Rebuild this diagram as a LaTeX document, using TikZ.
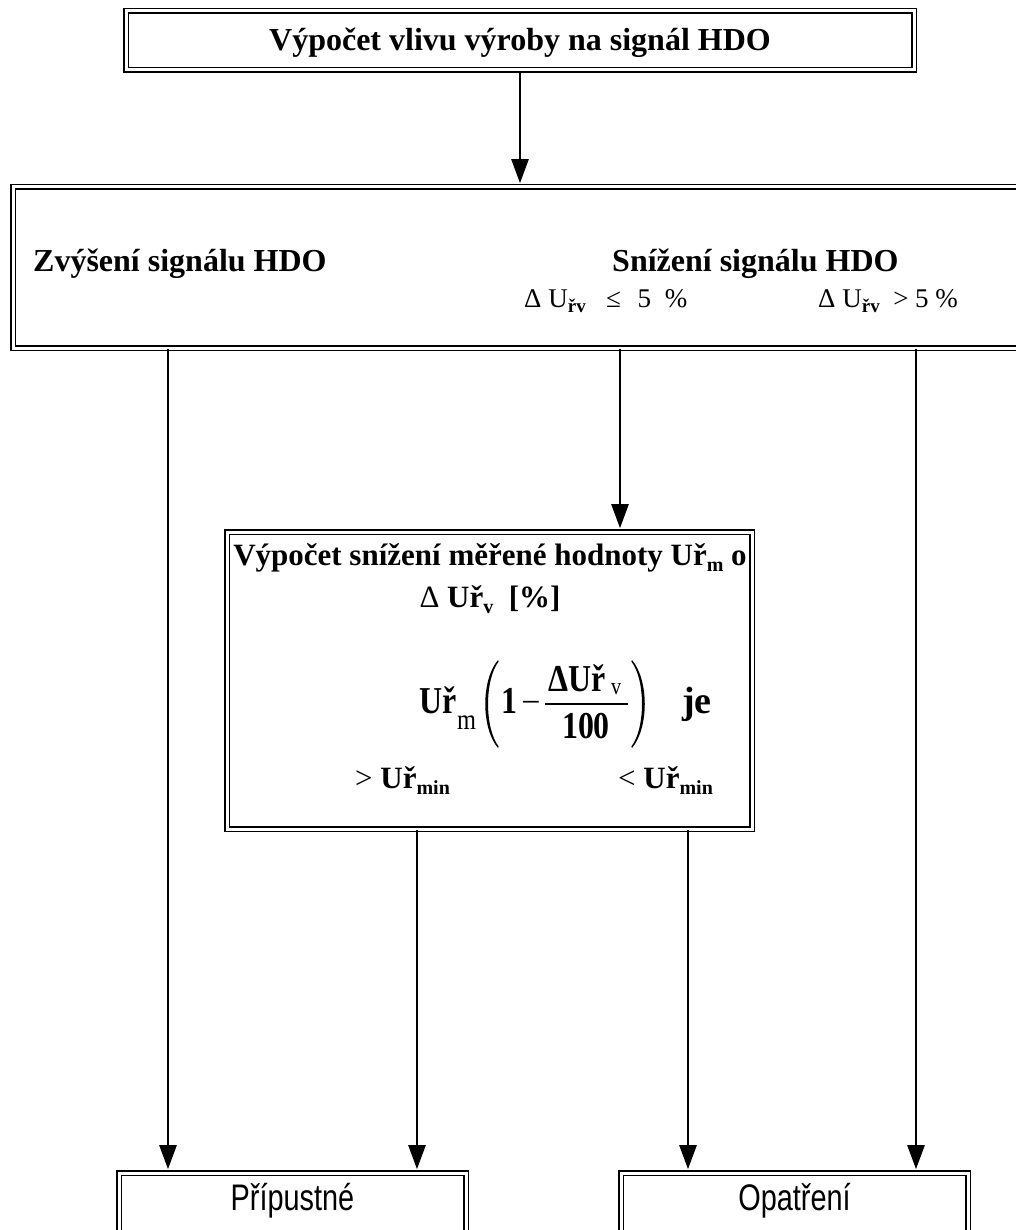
\documentclass[tikz,border=0pt]{standalone}
\usepackage{fontspec}
\setmainfont{Liberation Serif}
\newfontfamily\arialn[FakeStretch=0.78]{Liberation Sans}
\newfontfamily\fser[FakeStretch=0.84]{Liberation Serif}
\usetikzlibrary{arrows.meta}
\newcommand\mysub[2][18]{\raisebox{-0.22em}{\fontsize{#1}{#1}\selectfont #2}}
\begin{document}
\begin{tikzpicture}[x=1pt,y=-1pt,
  dbl/.style={draw, line width=1.6pt, double=white, double distance=3pt, inner sep=0pt, rectangle},
  arr/.style={line width=2.4pt, -{Triangle[width=17pt,length=24pt]}, shorten >=3pt},
  bt/.style={font=\fontsize{32}{38}\selectfont\bfseries, inner sep=0pt, anchor=base west},
  st/.style={font=\fontsize{27}{31}\selectfont, inner sep=0pt, anchor=base west},
  ft/.style={font=\fser\fontsize{38}{44}\selectfont\bfseries, inner sep=0pt},
  arialtext/.style={font=\arialn\fontsize{37}{40}\selectfont, inner sep=0pt, anchor=base}]
\useasboundingbox (0,0) rectangle (1016,1230);
\fill[white] (0,0) rectangle (1016,1230);
\clip (0,0) rectangle (1016,1230);
% boxes
\node[dbl, minimum width=788pt, minimum height=59pt] (top) at (520,40.5) {};
\node[dbl, minimum width=1017pt, minimum height=161pt] (box2) at (521.5,267.5) {};
\node[dbl, minimum width=525pt, minimum height=297pt] (mid) at (489.5,680.5) {};
\node[dbl, minimum width=347pt, minimum height=87pt] (pr) at (292.5,1216.5) {};
\node[dbl, minimum width=347pt, minimum height=87pt] (op) at (794.5,1216.5) {};
% texts
\node[font=\fontsize{32}{38}\selectfont\bfseries, inner sep=0pt, anchor=base] (t1) at (520,51) {Výpočet vlivu výroby na signál HDO};
\node[bt] (t2) at (33,272) {Zvýšení signálu HDO};
\node[bt] (t3) at (612,272) {Snížení signálu HDO};
\node[st] (t4) at (524,307) {Δ U\mysub[19]{\bfseries řv}\ \ \ ≤\ \hspace{10pt}5\ \hspace{7pt}\%};
\node[st] (t5) at (818,307) {Δ U\mysub[19]{\bfseries řv}\ \ > 5 \%};
\node[font=\fontsize{31}{37}\selectfont\bfseries, inner sep=0pt, anchor=base] (m1) at (490,565) {Výpočet snížení měřené hodnoty Uř\mysub[20]{m} o};
\node[font=\fontsize{31}{37}\selectfont, inner sep=0pt, anchor=base] (m2) at (490,607) {Δ \textbf{Uř}\mysub[20]{\bfseries v}\ \ \textbf{[\%]}};
% formula
\node[ft, anchor=base west] (fU) at (419,713) {Uř};
\node[font=\fser\fontsize{29}{34}\selectfont, inner sep=0pt, anchor=base west] (fm) at (457,729) {m};
\fill (498,660) .. controls (481,680) and (481,728) .. (498,748) -- (498.6,746.5) .. controls (484.5,728) and (484.5,680) .. (498.6,661.5) -- cycle;
\node[ft, anchor=base west] (f1) at (501,713) {1};
\node[font=\fontsize{34}{40}\selectfont, inner sep=0pt, anchor=base] (fminus) at (531,713) {−};
\node[ft, anchor=base] (fnum) at (577,691) {ΔUř};
\node[font=\fser\fontsize{24}{26}\selectfont, inner sep=0pt, anchor=base west] (fv) at (611,694) {v};
\draw[line width=1.5pt] (545,704) -- (628,704);
\node[ft, anchor=base] (fden) at (586,738) {100};
\fill (632,660) .. controls (649,680) and (649,728) .. (632,748) -- (631.4,746.5) .. controls (645.5,728) and (645.5,680) .. (631.4,661.5) -- cycle;
\node[font=\fontsize{38}{44}\selectfont\bfseries, inner sep=0pt, anchor=base west] (je) at (682,713) {je};
\node[font=\fontsize{31}{37}\selectfont, inner sep=0pt, anchor=base west] (g1) at (355,788) {> \textbf{Uř}\mysub[20]{\bfseries min}};
\node[font=\fontsize{31}{37}\selectfont, inner sep=0pt, anchor=base west] (g2) at (618,788) {< \textbf{Uř}\mysub[20]{\bfseries min}};
\node[arialtext] (p1) at (292.5,1210) {Přípustné};
\node[arialtext] (o1) at (794.5,1210) {Opatření};
% connector x-positions
\coordinate (xa) at (168,0);
\coordinate (xb) at (620,0);
\coordinate (xc) at (916,0);
\coordinate (xd) at (417,0);
\coordinate (xe) at (688,0);
% connectors
\draw[arr] (top.south) -- (top.south |- box2.north);
\draw[arr] (xa |- box2.south) -- (xa |- pr.north);
\draw[arr] (xb |- box2.south) -- (xb |- mid.north);
\draw[arr] (xc |- box2.south) -- (xc |- op.north);
\draw[arr] (xd |- mid.south) -- (xd |- pr.north);
\draw[arr] (xe |- mid.south) -- (xe |- op.north);
\end{tikzpicture}
\end{document}
